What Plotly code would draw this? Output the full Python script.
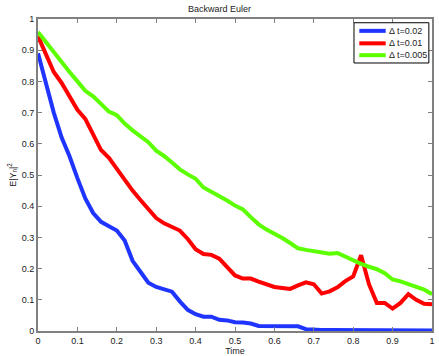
import plotly.graph_objects as go

# time grid (step 0.02)
time = [round(i * 0.02, 2) for i in range(51)]

err_dt_002 = [0.89, 0.795, 0.70, 0.62, 0.56, 0.49, 0.425, 0.378, 0.35, 0.336,
              0.322, 0.29, 0.225, 0.19, 0.155, 0.141, 0.135, 0.126, 0.095, 0.068,
              0.054, 0.046, 0.046, 0.036, 0.034, 0.028, 0.027, 0.024, 0.016, 0.016,
              0.015, 0.016, 0.018, 0.015, 0.006, 0.003, 0.003, 0.003, 0.003, 0.003,
              0.004, 0.005, 0.005, 0.005, 0.003, 0.003, 0.003, 0.003, 0.002, 0.002,
              0.002]

err_dt_001 = [0.945, 0.89, 0.83, 0.795, 0.752, 0.709, 0.68, 0.63, 0.58, 0.555,
              0.52, 0.482, 0.45, 0.42, 0.39, 0.362, 0.345, 0.335, 0.322, 0.295,
              0.262, 0.247, 0.244, 0.232, 0.205, 0.178, 0.168, 0.168, 0.158, 0.15,
              0.141, 0.138, 0.135, 0.146, 0.156, 0.15, 0.12, 0.127, 0.14, 0.16,
              0.175, 0.243, 0.15, 0.09, 0.09, 0.072, 0.09, 0.118, 0.10, 0.087,
              0.086]

err_dt_0005 = [0.958, 0.925, 0.893, 0.86, 0.83, 0.80, 0.77, 0.752, 0.726, 0.703,
               0.692, 0.665, 0.643, 0.625, 0.605, 0.578, 0.561, 0.54, 0.518, 0.502,
               0.488, 0.46, 0.446, 0.435, 0.418, 0.402, 0.39, 0.365, 0.342, 0.325,
               0.313, 0.298, 0.282, 0.265, 0.26, 0.256, 0.249, 0.248, 0.25, 0.238,
               0.228, 0.215, 0.206, 0.198, 0.185, 0.165, 0.159, 0.151, 0.142, 0.133,
               0.118]

names = ["Δ t=0.02", "Δ t=0.01", "Δ t=0.005"]
colors = ["#1f35ff", "#ff0000", "#5cff00"]

tick_vals = [round(i * 0.1, 1) for i in range(11)]
tick_text = ["0", "0.1", "0.2", "0.3", "0.4", "0.5", "0.6", "0.7", "0.8", "0.9", "1"]

fig = go.Figure()
for ys, name, col in zip([err_dt_002, err_dt_001, err_dt_0005], names, colors):
    fig.add_trace(go.Scatter(x=time, y=ys, mode="lines", name=name,
                             line=dict(color=col, width=4), showlegend=False))

# MATLAB-style compact legend box (paper coords)
fig.add_shape(type="rect", xref="paper", yref="paper",
              x0=0.802, x1=0.992, y0=0.859, y1=0.988,
              line=dict(color="#000000", width=1), fillcolor="white", layer="above")
legend_y = [0.962, 0.922, 0.884]
for name, col, ly in zip(names, colors, legend_y):
    fig.add_shape(type="line", xref="paper", yref="paper",
                  x0=0.8155, x1=0.8825, y0=ly, y1=ly,
                  line=dict(color=col, width=4), layer="above")
    fig.add_annotation(text=name, xref="paper", yref="paper", x=0.887, y=ly,
                       xanchor="left", yanchor="middle", showarrow=False,
                       font=dict(size=9, color="#222222"))

axis_style = dict(
    range=[0, 1], showgrid=False, zeroline=False, automargin=False,
    showline=True, mirror="ticks", linecolor="#808080", linewidth=2,
    ticks="inside", ticklen=4, tickcolor="#808080", tickwidth=1,
    tickvals=tick_vals, ticktext=tick_text, ticklabeloverflow="allow",
    tickfont=dict(size=9, color="#222222"),
)

fig.update_layout(
    width=439, height=356,
    margin=dict(l=38, r=7, t=19, b=25),
    paper_bgcolor="white", plot_bgcolor="white",
    font=dict(family="Liberation Sans, Arial, sans-serif", size=9, color="#222222"),
    title=dict(text="Backward Euler", x=0.5, xanchor="center", y=0.975, yanchor="middle",
               font=dict(size=9)),
    xaxis=dict(title=dict(text="Time", standoff=0, font=dict(size=9)), **axis_style),
    yaxis=dict(title=dict(text="E|Y<sub>n</sub>|<sup>2</sup>", standoff=4, font=dict(size=9)),
               **axis_style),
)

# drop the browser's default body margin so the figure fills the window
fig.write_html("out.html", config={"displayModeBar": False},
               post_script="document.body.style.margin='0';")
